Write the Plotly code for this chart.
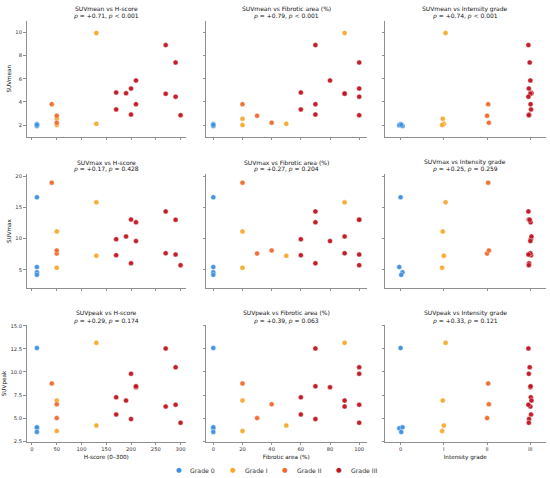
import plotly.graph_objects as go
from plotly.subplots import make_subplots

# one entry per patient: 4 x grade 0, 4 x grade I, 3 x grade II, 12 x grade III
grade = [0, 0, 0, 0,
         1, 1, 1, 1,
         2, 2, 2,
         3, 3, 3, 3, 3, 3, 3, 3, 3, 3, 3, 3]
h_score = [10, 10, 10, 10,
           130, 130, 50, 50,
           40, 50, 50,
           170, 170, 190, 200, 200, 210, 210, 270, 270, 290, 290, 300]
fibrotic_area = [0, 0, 0, 0,
                 90, 50, 20, 20,
                 20, 30, 40,
                 60, 60, 90, 100, 70, 80, 70, 70, 90, 100, 100, 100]
# horizontal jitter of the intensity-grade panels
intensity_jitter = [0.0, -0.03, 0.045, 0.015,
                    0.04, 0.0, -0.025, -0.04,
                    0.025, 0.0, 0.04,
                    0.01, 0.015, 0.025, -0.035, -0.03, 0.0, 0.005, -0.045, 0.0, -0.015, -0.045, -0.035]
suv_mean = [2.08, 1.98, 1.92, 2.02,
            9.95, 2.1, 2.55, 2.0,
            3.8, 2.8, 2.2,
            4.8, 3.35, 4.75, 5.15, 2.9, 5.85, 3.8, 8.9, 4.7, 7.4, 4.45, 2.85]
suv_max = [16.6, 5.45, 4.6, 4.2,
           15.8, 7.25, 11.15, 5.35,
           18.95, 7.6, 8.1,
           9.9, 7.35, 10.35, 13.05, 6.05, 9.6, 12.6, 14.35, 7.65, 13.0, 7.45, 5.75]
suv_peak = [12.6, 3.9, 4.0, 3.5,
            13.15, 4.2, 6.9, 3.6,
            8.75, 5.0, 6.5,
            7.25, 5.4, 6.9, 9.8, 4.9, 8.35, 8.45, 12.55, 6.25, 10.5, 6.45, 4.5]

grade_names = ["Grade 0", "Grade I", "Grade II", "Grade III"]
grade_colors = ["#3d8fe0", "#f7a82a", "#ee6a2c", "#c0141f"]

metric_names = ["SUVmean", "SUVmax", "SUVpeak"]
predictor_names = ["H-score", "Fibrotic area (%)", "Intensity grade"]
x_titles = ["H-score (0–300)", "Fibrotic area (%)", "Intensity grade"]
stats_text = [
    ["+0.71, <i>p</i> &lt; 0.001", "+0.79, <i>p</i> &lt; 0.001", "+0.74, <i>p</i> &lt; 0.001"],
    ["+0.17, <i>p</i> = 0.428", "+0.27, <i>p</i> = 0.204", "+0.25, <i>p</i> = 0.259"],
    ["+0.29, <i>p</i> = 0.174", "+0.39, <i>p</i> = 0.063", "+0.33, <i>p</i> = 0.121"],
]

intensity_x = [g + j for g, j in zip(grade, intensity_jitter)]
x_data = [h_score, fibrotic_area, intensity_x]
y_data = [suv_mean, suv_max, suv_peak]

W, H = 550, 478
col_px = [(26.5, 186), (206, 366.5), (385, 545.5)]
row_px = [(18, 135), (173, 288), (325.7, 443.3)]
x_ranges = [[-11, 311], [-5, 105], [-0.36, 3.35]]
y_ranges = [[1.0, 11.0], [2.1, 20.3], [2.45, 15.05]]
# legend: marker centre and text start, in pixels
legend_marker_px = [178.7, 233, 285, 339]
legend_text_px = [188, 242.7, 295, 349]
legend_y_px = 472


def px_x(p):
    return p / W


def px_y(p):
    return 1 - p / H


font = "DejaVu Sans"
axis_grey = "#8f8f8f"
text_col = "#111111"

fig = make_subplots(rows=3, cols=3)

for r in range(3):
    for c in range(3):
        for g in range(4):
            idx = [i for i in range(len(grade)) if grade[i] == g]
            fig.add_trace(go.Scatter(
                x=[x_data[c][i] for i in idx],
                y=[y_data[r][i] for i in idx],
                mode="markers",
                name=grade_names[g],
                legendgroup=grade_names[g],
                showlegend=False,
                marker=dict(size=5, color=grade_colors[g], opacity=0.95,
                            line=dict(color="white", width=0.4)),
            ), row=r + 1, col=c + 1)

        n = r * 3 + c + 1
        xa = "xaxis" if n == 1 else f"xaxis{n}"
        ya = "yaxis" if n == 1 else f"yaxis{n}"
        x0, x1 = col_px[c]
        y0, y1 = row_px[r]
        xaxis = dict(
            domain=[px_x(x0), px_x(x1)], range=x_ranges[c],
            showgrid=False, zeroline=False, showline=True,
            linecolor=axis_grey, linewidth=1,
            ticks="outside", ticklen=2.5, tickcolor=axis_grey, tickwidth=0.8,
            tickfont=dict(family=font, size=5.2, color="#333"),
            showticklabels=(r == 2),
        )
        if c == 0:
            xaxis.update(tickmode="array", tickvals=[0, 50, 100, 150, 200, 250, 300])
        elif c == 1:
            xaxis.update(tickmode="array", tickvals=[0, 20, 40, 60, 80, 100])
        else:
            xaxis.update(tickmode="array", tickvals=[0, 1, 2, 3],
                         ticktext=["0", "I", "II", "III"])
        if r == 2:
            xaxis.update(title=dict(text=x_titles[c], standoff=3,
                                    font=dict(family=font, size=5.7, color=text_col)))
        yaxis = dict(
            domain=[px_y(y1), px_y(y0)], range=y_ranges[r],
            showgrid=False, zeroline=False, showline=True,
            linecolor=axis_grey, linewidth=1,
            ticks="outside", ticklen=2.5, tickcolor=axis_grey, tickwidth=0.8,
            tickfont=dict(family=font, size=5.2, color="#333"),
            showticklabels=(c == 0),
        )
        if r == 0:
            yaxis.update(tickmode="array", tickvals=[2, 4, 6, 8, 10])
        elif r == 1:
            yaxis.update(tickmode="array", tickvals=[5, 10, 15, 20])
        else:
            yaxis.update(tickmode="array", tickvals=[2.5, 5, 7.5, 10, 12.5, 15],
                         tickformat=".1f")
        if c == 0:
            yaxis.update(title=dict(text=metric_names[r], standoff=3,
                                    font=dict(family=font, size=5.7, color=text_col)))
        fig.update_layout({xa: xaxis, ya: yaxis})

        # two-line panel title
        xc = px_x((x0 + x1) / 2)
        fig.add_annotation(x=xc, y=px_y(y0 - 12.3), xref="paper", yref="paper",
                           text=f"{metric_names[r]} vs {predictor_names[c]}",
                           showarrow=False, xanchor="center", yanchor="middle",
                           font=dict(family=font, size=6, color=text_col))
        fig.add_annotation(x=xc, y=px_y(y0 - 4.8), xref="paper", yref="paper",
                           text=f"<i>ρ</i> = {stats_text[r][c]}",
                           showarrow=False, xanchor="center", yanchor="middle",
                           font=dict(family=font, size=6, color=text_col))

# legend row under the panels
for g in range(4):
    fig.add_annotation(x=px_x(legend_marker_px[g]), y=px_y(legend_y_px),
                       xref="paper", yref="paper", text="●", showarrow=False,
                       xanchor="center", yanchor="middle",
                       font=dict(family=font, size=6.5, color=grade_colors[g]))
    fig.add_annotation(x=px_x(legend_text_px[g]), y=px_y(legend_y_px),
                       xref="paper", yref="paper", text=grade_names[g], showarrow=False,
                       xanchor="left", yanchor="middle",
                       font=dict(family=font, size=6.2, color="#333"))

fig.update_layout(
    width=W, height=H,
    margin=dict(l=0, r=0, t=0, b=0),
    paper_bgcolor="white", plot_bgcolor="white",
    font=dict(family=font, color=text_col),
    showlegend=False,
)

fig.write_html("out.html", config={"displayModeBar": False},
               post_script="document.body.style.margin = '0px';")
